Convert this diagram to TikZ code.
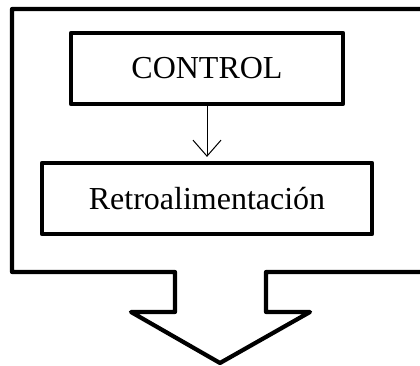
\documentclass[tikz,border=0pt]{standalone}
\usepackage{fontspec}
\setmainfont{Liberation Serif}
\usetikzlibrary{arrows.meta}
\begin{document}
\begin{tikzpicture}[x=1pt,y=-1pt,
  thickline/.style={line width=4.2pt,line join=round},
  boxnode/.style={draw,thickline,rectangle,inner sep=0pt,font=\fontsize{32}{36}\selectfont},
  thinarrow/.style={line width=1pt,-{Straight Barb[length=16pt,width=28pt]}}]
\useasboundingbox (0,0) rectangle (420,366);
\clip (0,0) rectangle (420,366);
\draw[thickline] (430,9) -- (12,9) -- (12,272) -- (175,272) -- (175,312) -- (131,312)
  -- (220,363) -- (310,312) -- (266,312) -- (266,272) -- (430,272);
\node[boxnode,minimum width=272pt,minimum height=71pt] (ctrl) at (207,68.5) {\raisebox{2pt}{CONTROL}};
\node[boxnode,minimum width=330pt,minimum height=71pt] (retro) at (207,198.5) {Retroalimentación};
\draw[thinarrow] (ctrl.south) -- ([yshift=4pt]retro.north);
\end{tikzpicture}
\end{document}
